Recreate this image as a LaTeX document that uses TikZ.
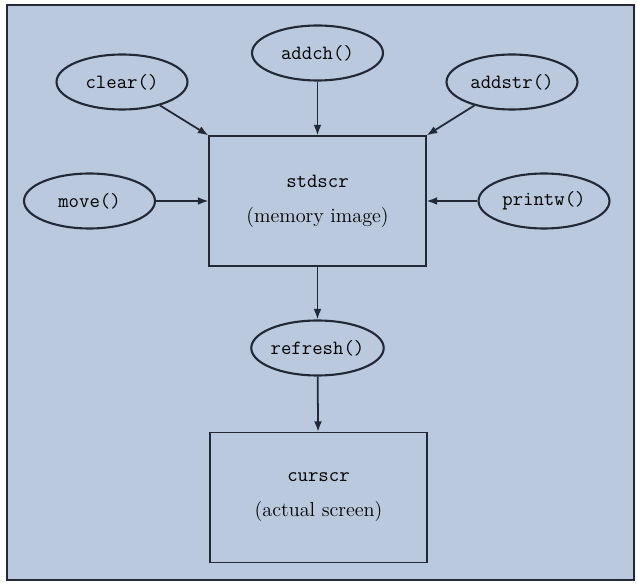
\documentclass[tikz,border=0pt]{standalone}
\usepackage{tikz}
\usetikzlibrary{shapes.geometric,arrows.meta}
\definecolor{panel}{RGB}{186,201,222}
\definecolor{ink}{RGB}{35,40,55}

\begin{document}
\begin{tikzpicture}[x=0.02cm,y=-0.02cm,
		every node/.style={font=\fontsize{11.5}{13.5}\selectfont},
		call/.style={ellipse, draw=ink, line width=1.2pt, minimum width=2.62cm, minimum height=1.1cm, inner sep=0pt, font=\fontsize{11.5}{13.5}\selectfont\ttfamily},
		screen/.style={rectangle, draw=ink, line width=0.75pt, minimum width=4.34cm, minimum height=2.6cm, align=center},
		flow/.style={draw=ink, line width=1pt, -{Latex[length=6pt,width=4.5pt]}}]
		\useasboundingbox (0,0) rectangle (637,584);
		\fill[white] (0,0) rectangle (637,584);
		\draw[ink, line width=0.8pt, fill=panel] (7,5) rectangle (634,580);
		% the two screens
		\node[screen] (stdscr) at (317.5,201) {\texttt{stdscr}\\[6.5pt](memory image)};
		\node[screen] (curscr) at (318.5,497.5) {\texttt{curscr}\\[6.5pt](actual screen)};
		% the calls
		\node[call] (addch) at (317.5,53) {addch()};
		\node[call] (clear) at (122,82) {clear()};
		\node[call] (addstr) at (512,82) {addstr()};
		\node[call] (move) at (89.5,201) {move()};
		\node[call] (printw) at (544,201) {printw()};
		\node[call] (refresh) at (317.5,348) {refresh()};
		% connectors
		\draw[flow] (clear) -- (stdscr.north west);
		\draw[flow] (addch) -- (stdscr);
		\draw[flow] (addstr) -- (stdscr.north east);
		\draw[flow] (move) -- (stdscr);
		\draw[flow] (printw) -- (stdscr);
		\draw[flow] (stdscr) -- (refresh);
		\draw[flow] (refresh) -- (curscr);
\end{tikzpicture}
\end{document}
